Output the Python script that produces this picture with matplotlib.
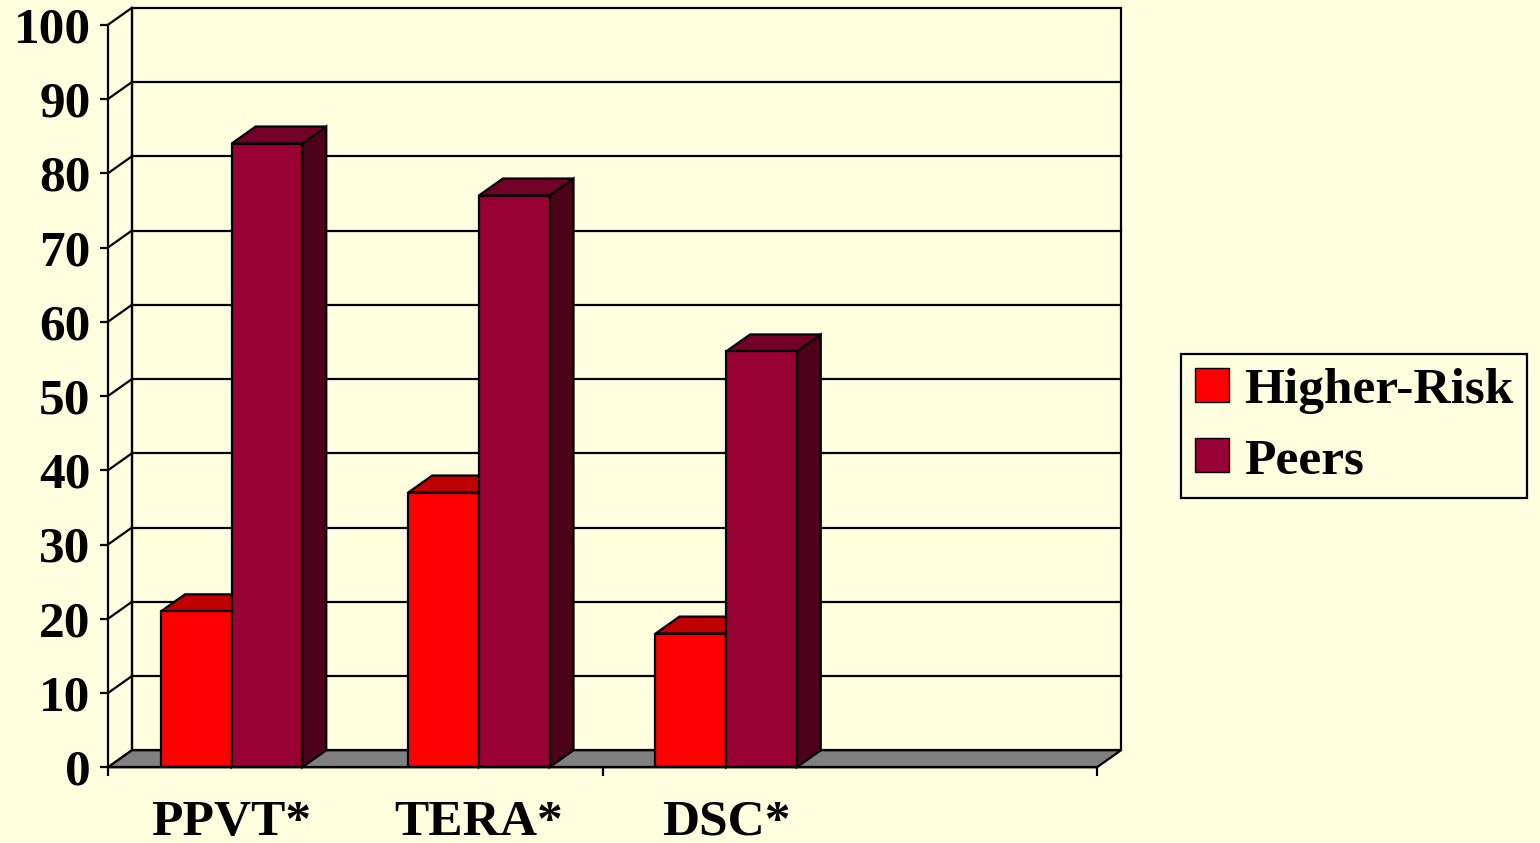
import numpy as np
import matplotlib
matplotlib.use('Agg')
from matplotlib import pyplot as plt
from matplotlib.patches import Polygon, Patch

categories = ['PPVT*', 'TERA*', 'DSC*']
higher_risk = [21, 37, 18]
peers = [84, 77, 56]
series_names = ['Higher-Risk', 'Peers']
n_slots = 4          # the category axis has room for one more (empty) group
y_ticks = list(range(0, 101, 10))

bg = '#FFFFE0'
front = ['#FF0000', '#990033']
top = ['#C00000', '#730027']
side = ['#A00000', '#4C001A']

plt.rcParams['font.family'] = ['Liberation Serif', 'DejaVu Serif']
plt.rcParams['font.weight'] = 'bold'
fs = 37

fig = plt.figure(figsize=(15.4, 8.43), dpi=100, facecolor=bg)
ax = fig.add_axes([108 / 1540, 75.75 / 843, 989 / 1540, 742.5 / 843])
ax.set_facecolor('none')
ax.set_xlim(0, n_slots)
ax.set_ylim(0, 100)

# depth of the fake 3d box, in data units
dx = 24 / 247.25
dy = 17 / 7.425
lw = 1.6

# back wall with gridlines
ax.add_patch(Polygon([(dx, dy), (n_slots + dx, dy), (n_slots + dx, 100 + dy), (dx, 100 + dy)],
                     closed=True, facecolor=bg, edgecolor='black', lw=lw, clip_on=False, zorder=1))
for v in y_ticks[1:-1]:
  ax.plot([dx, n_slots + dx], [v + dy, v + dy], color='black', lw=lw, clip_on=False, zorder=1.1)
# side wall lines
for v in y_ticks:
  ax.plot([0, dx], [v, v + dy], color='black', lw=lw, clip_on=False, zorder=1.1)
ax.plot([dx, dx], [dy, 100 + dy], color='black', lw=lw, clip_on=False, zorder=1.1)

# floor
ax.add_patch(Polygon([(0, 0), (n_slots, 0), (n_slots + dx, dy), (dx, dy)],
                     closed=True, facecolor='#808080', edgecolor='black', lw=lw, clip_on=False, zorder=1.5))

w = 1 / 3.5
xs = np.arange(len(categories)) + 0.5
for i, vals in enumerate([higher_risk, peers]):
  x0 = xs - w + i * w
  for x, v in zip(x0, vals):
    # right side face
    ax.add_patch(Polygon([(x + w, 0), (x + w + dx, dy), (x + w + dx, v + dy), (x + w, v)],
                         closed=True, facecolor=side[i], edgecolor='black', lw=lw, clip_on=False, zorder=2 + i))
    # top face
    ax.add_patch(Polygon([(x, v), (x + w, v), (x + w + dx, v + dy), (x + dx, v + dy)],
                         closed=True, facecolor=top[i], edgecolor='black', lw=lw, clip_on=False, zorder=2 + i))
  ax.bar(x0, vals, width=w, align='edge', color=front[i], edgecolor='black', lw=lw, zorder=2.5 + i)

for s in ['top', 'right']:
  ax.spines[s].set_visible(False)
ax.spines['left'].set_linewidth(lw)
ax.spines['bottom'].set_linewidth(lw)
ax.spines['left'].set_zorder(5)
ax.spines['bottom'].set_zorder(5)

ax.set_yticks(y_ticks)
ax.tick_params(axis='y', length=6, width=lw, pad=6.5, labelsize=fs)
ax.set_xticks([0, 2, 4])
ax.set_xticklabels([])
ax.set_xticks(xs, minor=True)
ax.set_xticklabels(categories, minor=True)
ax.tick_params(axis='x', which='major', length=6.5, width=lw)
ax.tick_params(axis='x', which='minor', length=0, pad=23.5, labelsize=fs)

handles = [Patch(facecolor=front[i], edgecolor='black', lw=1) for i in range(2)]
leg = fig.legend(handles, series_names, loc='center left', bbox_to_anchor=(1181 / 1540, 0.4947),
                 fontsize=fs, frameon=True, fancybox=False, edgecolor='black', facecolor=bg,
                 handlelength=0.66, handleheight=0.66, handletextpad=0.3, borderpad=0.27,
                 labelspacing=0.46, borderaxespad=0)
leg.get_frame().set_linewidth(lw)
leg.get_frame().set_alpha(None)

fig.savefig('out.png', dpi=100, facecolor=bg)
